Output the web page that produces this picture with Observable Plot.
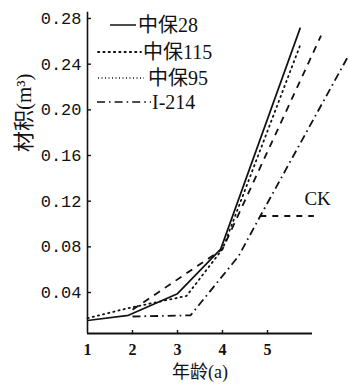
<!DOCTYPE html>
<html><head><meta charset="utf-8">
<script src="https://cdn.jsdelivr.net/npm/d3@7"></script>
<script src="https://cdn.jsdelivr.net/npm/@observablehq/plot@0.6"></script>
<style>
body{margin:0;background:#fff;}
#wrap{position:relative;width:349px;height:388px;overflow:hidden;}
#legend{position:absolute;left:0;top:0;pointer-events:none;}
</style></head><body><div id="wrap"></div>
<script>
// ---- data ----
const seriesNames = ["中保28", "中保115", "中保95", "I-214", "CK"];
const ages28  = [1, 1.91, 3.0, 3.96, 5.73];
const vol28   = [0.0155, 0.020, 0.039, 0.078, 0.272];
const ages115 = [1, 1.87, 3.2, 4.0, 5.73];
const vol115  = [0.0175, 0.026, 0.037, 0.078, 0.257];
const ages95  = [2.0, 4.0, 6.19];
const vol95   = [0.025, 0.078, 0.265];
const ages214 = [2.0, 3.29, 4.36, 4.84, 6.78];
const vol214  = [0.019, 0.020, 0.072, 0.107, 0.246];
const agesCK  = [4.84, 6.03];
const volCK   = [0.107, 0.107];
const xTicks  = [1, 2, 3, 4, 5];
const yTicks  = [0.04, 0.08, 0.12, 0.16, 0.20, 0.24, 0.28];
const xTitle  = "年龄(a)";
const yTitle  = "材积(m³)";

// ---- styles ----
const dash = {"中保28": null, "中保115": "1.3,4", "中保95": "7,6", "I-214": "8,4,1.6,4", "CK": "6,6"};
const toRows = (name, xs, ys) => xs.map((x, i) => ({series: name, age: x, vol: ys[i]}));
const tables = [
  toRows(seriesNames[0], ages28, vol28),
  toRows(seriesNames[1], ages115, vol115),
  toRows(seriesNames[2], ages95, vol95),
  toRows(seriesNames[3], ages214, vol214),
  toRows(seriesNames[4], agesCK, volCK)
];
const serif = "'Liberation Serif','Noto Sans CJK SC',serif";
const ink = "#111";
const W = 349, H = 388, mL = 87, mR = 37, mT = 14, mB = 55;
const frameW = W - mL - mR, frameH = H - mT - mB;

const lineMarks = tables.map((t, i) => Plot.line(t, {
  x: "age", y: "vol", stroke: ink,
  strokeWidth: i === 0 ? 1.7 : 1.8,
  strokeDasharray: dash[t[0].series],
  strokeLinecap: i === 1 ? "round" : "butt"
}));

const ckEnd = tables[4][tables[4].length - 1];

const chart = Plot.plot({
  width: W, height: H,
  marginLeft: mL, marginRight: mR, marginTop: mT, marginBottom: mB,
  style: {background: "#fff", color: ink, overflow: "visible"},
  x: {domain: [1, 6], axis: null},
  y: {domain: [0.0041, 0.2835], axis: null},
  marks: [
    Plot.ruleX([1], {stroke: ink, strokeWidth: 1.6, y1: 0.0041, y2: 0.2855}),
    Plot.ruleY([0.0041], {stroke: ink, strokeWidth: 2}),
    // inward tick marks
    Plot.tickY(yTicks, {y: d => d, stroke: ink, strokeWidth: 1.4, insetRight: frameW - 4}),
    Plot.tickX(xTicks.slice(1), {x: d => d, stroke: ink, strokeWidth: 1.4, insetTop: frameH - 3}),
    Plot.axisY(yTicks, {anchor: "left", tickSize: 0, tickPadding: 6, label: null,
      tickFormat: d3.format(".2f"), fontSize: 17, fontFamily: "'Liberation Mono',monospace"}),
    Plot.axisX(xTicks, {anchor: "bottom", tickSize: 0, tickPadding: 10, label: null,
      tickFormat: d => String(d), fontSize: 16, fontFamily: serif, fontWeight: "bold"}),
    ...lineMarks,
    Plot.text([ckEnd], {x: "age", y: "vol", text: d => d.series, textAnchor: "end", dx: 17, dy: -17,
      fontSize: 19, fontFamily: serif, fill: ink}),
    Plot.text([xTitle], {frameAnchor: "bottom", dx: 0, dy: 44, text: d => d, fontSize: 18, fontFamily: serif, fill: ink}),
    Plot.text([yTitle], {frameAnchor: "left", dx: -63, dy: -22, rotate: -90, text: d => d, fontSize: 21, fontFamily: serif, fill: ink})
  ]
});
document.getElementById("wrap").appendChild(chart);

// ---- legend overlay (inside the plot area, top-left) ----
const legendLayout = [
  {x1: 110, x2: 136, tx: 138, y: 25},
  {x1: 98,  x2: 141, tx: 143, y: 52},
  {x1: 98,  x2: 144, tx: 148, y: 78},
  {x1: 97,  x2: 151, tx: 152, y: 102}
];
const lg = d3.select("#wrap").append("svg").attr("id", "legend").attr("width", W).attr("height", 130);
legendLayout.forEach((L, i) => {
  const name = seriesNames[i];
  lg.append("line").attr("x1", L.x1).attr("x2", L.x2).attr("y1", L.y).attr("y2", L.y)
    .attr("stroke", ink).attr("stroke-width", i === 1 ? 1.8 : 1.5)
    .attr("stroke-dasharray", i === 2 ? "1,2.5" : dash[name])
    .attr("stroke-linecap", i === 1 ? "round" : "butt");
  lg.append("text").attr("x", L.tx).attr("y", L.y).attr("dy", "0.35em")
    .attr("font-size", 20).attr("font-family", serif).attr("fill", ink).text(name);
});
</script></body></html>
